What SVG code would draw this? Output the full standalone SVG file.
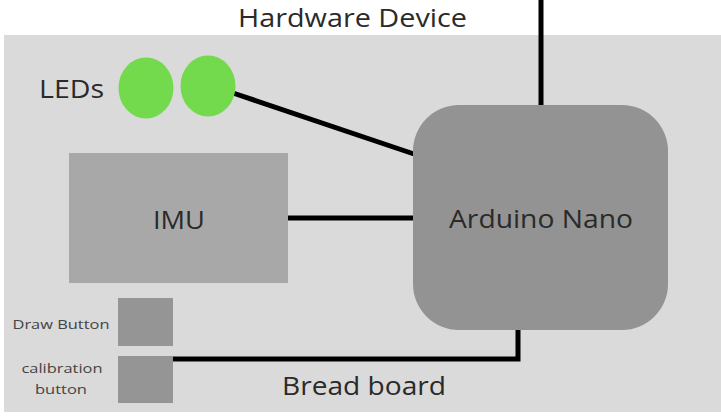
<svg xmlns="http://www.w3.org/2000/svg" width="721" height="417" viewBox="0 0 721 417">
<style>
text{font-family:"Open Sans","Noto Sans","DejaVu Sans",sans-serif;fill:#2a2a2a}
.big{font-size:25px}
.small{font-size:13px;fill:#444}
.wire{stroke:#000;stroke-width:5;fill:none;stroke-linecap:butt;stroke-linejoin:miter}
.btn{fill:#959595}
</style>
<rect x="0" y="0" width="721" height="417" fill="#ffffff"/>
<rect id="panel" x="4" y="35" width="717" height="377" fill="#dadada"/>
<text class="big" x="238" y="27" textLength="229" lengthAdjust="spacingAndGlyphs">Hardware Device</text>
<g id="connectors">
<line class="wire" x1="541" y1="0" x2="541" y2="106"/>
<line class="wire" x1="233" y1="93" x2="414" y2="154"/>
<line class="wire" x1="288" y1="218" x2="414" y2="218"/>
<polyline class="wire" points="173,359 518,359 518,330"/>
</g>
<g id="leds">
<text class="big" x="39" y="98" textLength="65" lengthAdjust="spacingAndGlyphs">LEDs</text>
<ellipse cx="146" cy="88" rx="27.5" ry="30.5" fill="#72da4c"/>
<ellipse cx="208" cy="86" rx="27.5" ry="30.5" fill="#72da4c"/>
</g>
<g id="imu">
<rect x="69" y="153" width="219" height="130" fill="#a8a8a8"/>
<text class="big" x="179" y="229" text-anchor="middle" textLength="52" lengthAdjust="spacingAndGlyphs">IMU</text>
</g>
<g id="arduino">
<rect x="413" y="105" width="255" height="225" rx="46" ry="46" fill="#939393"/>
<text class="big" x="541" y="228" text-anchor="middle" textLength="184" lengthAdjust="spacingAndGlyphs">Arduino Nano</text>
</g>
<g id="draw-button">
<rect class="btn" x="118" y="298" width="55" height="48"/>
<text class="small" x="61" y="329" text-anchor="middle" textLength="97" lengthAdjust="spacingAndGlyphs">Draw Button</text>
</g>
<g id="calibration-button">
<rect class="btn" x="118" y="356" width="55" height="47"/>
<text class="small" x="62" y="373" text-anchor="middle" textLength="81" lengthAdjust="spacingAndGlyphs">calibration</text>
<text class="small" x="61" y="394" text-anchor="middle" textLength="52" lengthAdjust="spacingAndGlyphs">button</text>
</g>
<g id="breadboard">
<text class="big" x="282" y="395" textLength="164" lengthAdjust="spacingAndGlyphs">Bread board</text>
</g>
</svg>
